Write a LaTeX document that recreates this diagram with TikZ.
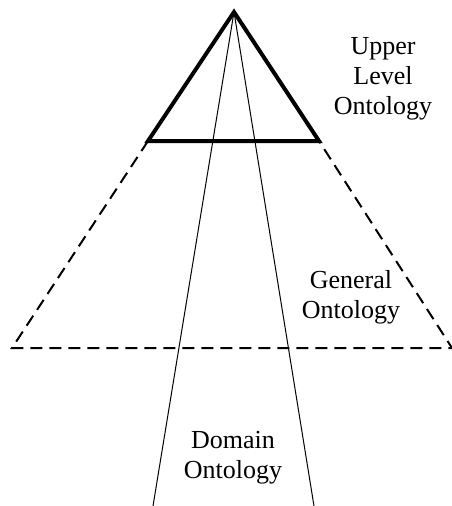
\documentclass[tikz,border=0pt]{standalone}
\usepackage{fontspec}
\setmainfont{Liberation Serif}
\begin{document}
\begin{tikzpicture}[x=1pt,y=-1pt,
  thickline/.style={line width=4pt,line join=miter},
  thinline/.style={line width=1pt},
  dashline/.style={line width=2pt,dash pattern=on 12pt off 7pt},
  lbl/.style={align=center,inner sep=0pt,font=\fontsize{26}{30}\selectfont}]
\useasboundingbox (0,0) rectangle (452,506);
\coordinate (apex) at (234,12);
\coordinate (bl) at (148,141);
\coordinate (br) at (319,141);
\coordinate (gl) at (12,348);
\coordinate (gr) at (452,348);
\coordinate (dl) at (153,506);
\coordinate (dr) at (314,506);
\draw[thinline] (apex) -- (dl);
\draw[thinline] (apex) -- (dr);
\draw[thickline] (bl) -- (apex) -- (br) -- cycle;
\draw[dashline] (bl) -- (gl) -- (gr) -- (br);
\node[lbl] (upper) at (383,79) {Upper\\Level\\Ontology};
\node[lbl] (general) at (351,297) {General\\Ontology};
\node[lbl] (domain) at (233,458) {Domain\\Ontology};
\end{tikzpicture}
\end{document}
